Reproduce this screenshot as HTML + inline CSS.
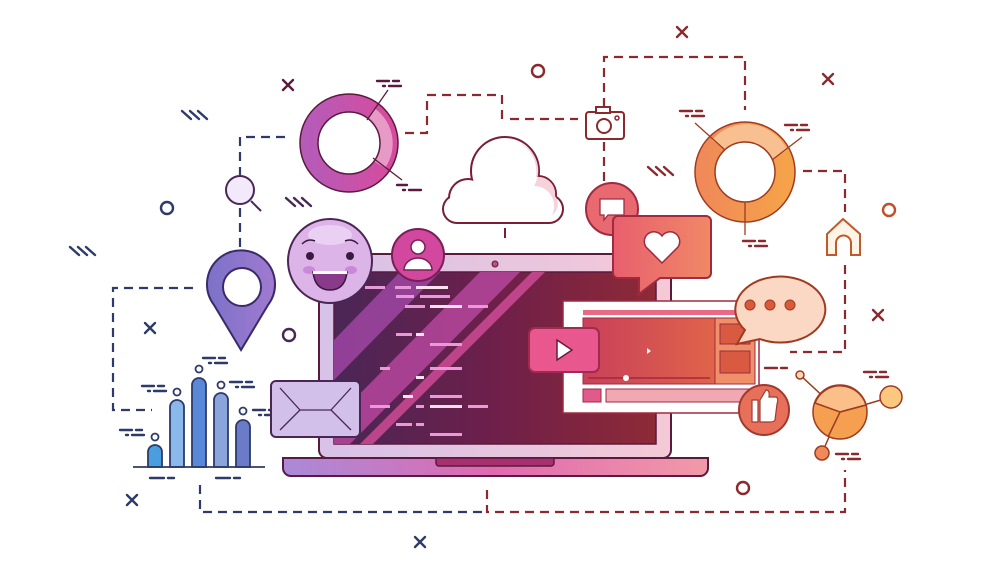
<!DOCTYPE html>
<html><head><meta charset="utf-8"><style>html,body{margin:0;padding:0;background:#fff}svg{display:block}</style></head>
<body>
<svg width="1000" height="568" viewBox="0 0 1000 568" xmlns="http://www.w3.org/2000/svg">
<defs>
<linearGradient id="scr" x1="0" y1="0" x2="1" y2="0"><stop offset="0" stop-color="#4a2656"/><stop offset="0.5" stop-color="#6e1f4a"/><stop offset="1" stop-color="#8e2a36"/></linearGradient>
<linearGradient id="lid" x1="0" y1="0" x2="1" y2="0"><stop offset="0" stop-color="#d7c2e8"/><stop offset="1" stop-color="#f5c9d6"/></linearGradient>
<linearGradient id="base" x1="0" y1="0" x2="1" y2="0"><stop offset="0" stop-color="#a98ad8"/><stop offset="0.5" stop-color="#e06ab0"/><stop offset="1" stop-color="#f19aa8"/></linearGradient>
<linearGradient id="pd" x1="0" y1="0" x2="1" y2="0"><stop offset="0" stop-color="#b65bb8"/><stop offset="1" stop-color="#d54c9e"/></linearGradient>
<linearGradient id="od" x1="0" y1="0" x2="1" y2="0"><stop offset="0" stop-color="#f08a58"/><stop offset="1" stop-color="#f5a24a"/></linearGradient>
<linearGradient id="vid" x1="0" y1="0" x2="1" y2="0"><stop offset="0" stop-color="#c8405a"/><stop offset="1" stop-color="#e0644a"/></linearGradient>
<linearGradient id="heart" x1="0" y1="0" x2="1" y2="0"><stop offset="0" stop-color="#e85f6e"/><stop offset="1" stop-color="#f08866"/></linearGradient>
<linearGradient id="pin" x1="0" y1="0" x2="1" y2="0"><stop offset="0" stop-color="#7b72c8"/><stop offset="1" stop-color="#a07ad0"/></linearGradient>
</defs>

<g fill="none" stroke="#2e3a6a" stroke-width="2.2" stroke-dasharray="9 6">
<path d="M285 137 H240 V175"/>
<path d="M240 208 V248"/>
<path d="M193 288 H113 V410 H152"/>
<path d="M200 485 V512 H487"/>
</g>
<g fill="none" stroke="#8a2a2e" stroke-width="2.2" stroke-dasharray="9 6">
<path d="M405 133 H427 V95 H502 V120"/>
<path d="M510 119 H578"/>
<path d="M604 107 V57 H745 V110"/>
<path d="M604 142 V185"/>
<path d="M803 171 H845 V212"/>
<path d="M845 265 V352 H790"/>
<path d="M487 490 V512 H845 V470"/>
</g>

<g stroke-width="2.4" fill="none" stroke-linecap="round">
<g stroke="#5a1a40"><path d="M283 80 l10 10 M293 80 l-10 10"/></g>
<g stroke="#2e3a6a"><path d="M145 323 l10 10 M155 323 l-10 10"/><path d="M127 495 l10 10 M137 495 l-10 10"/><path d="M415 537 l10 10 M425 537 l-10 10"/></g>
<g stroke="#8a2a2e"><path d="M677 27 l10 10 M687 27 l-10 10"/><path d="M823 74 l10 10 M833 74 l-10 10"/><path d="M873 310 l10 10 M883 310 l-10 10"/></g>
<circle cx="538" cy="71" r="6" stroke="#8a2a2e"/>
<circle cx="167" cy="208" r="6" stroke="#2e3a6a"/>
<circle cx="289" cy="335" r="6" stroke="#4a2656"/>
<circle cx="889" cy="210" r="6" stroke="#c0502a"/>
<circle cx="743" cy="488" r="6" stroke="#8a2a2e"/>
<g stroke="#2e3a6a"><path d="M182 111 l9 8 M190 111 l9 8 M198 111 l9 8"/><path d="M70 247 l9 8 M78 247 l9 8 M86 247 l9 8"/></g>
<g stroke="#4a2656"><path d="M286 198 l9 8 M294 198 l9 8 M302 198 l9 8"/></g>
<g stroke="#8a2a2e"><path d="M648 167 l9 8 M656 167 l9 8 M664 167 l9 8"/></g>
</g>
<g stroke-width="2.4" stroke-linecap="round">
<g stroke="#5a1a40"><path d="M377 81 h12 M393 81 h6 M383 86 h2 M389 86 h12"/><path d="M397 185 h10 M403 190 h2 M409 190 h12"/></g>
<g stroke="#8a2a2e"><path d="M680 111 h12 M696 111 h6 M686 116 h2 M692 116 h12"/><path d="M785 125 h12 M801 125 h6 M791 130 h2 M797 130 h12"/><path d="M743 241 h12 M759 241 h6 M749 246 h2 M755 246 h12"/><path d="M765 368 h12 M781 368 h6"/><path d="M864 372 h12 M880 372 h6 M870 377 h2 M876 377 h12"/><path d="M836 454 h12 M852 454 h6 M842 459 h2 M848 459 h12"/></g>
<g stroke="#2e3a6a"><path d="M142 386 h12 M158 386 h6 M148 391 h2 M154 391 h12"/><path d="M120 430 h12 M136 430 h6 M126 435 h2 M132 435 h12"/><path d="M203 358 h12 M219 358 h6 M209 363 h2 M215 363 h12"/><path d="M230 382 h12 M246 382 h6 M236 387 h2 M242 387 h12"/><path d="M253 410 h12 M269 410 h6 M259 415 h2 M265 415 h12"/><path d="M150 478 h14 M168 478 h6 M216 478 h14 M234 478 h6"/></g>
</g>

<!-- pink donut -->
<circle cx="349" cy="143" r="40" fill="none" stroke="url(#pd)" stroke-width="18"/>
<path d="M374.5 108.3 A43 43 0 0 1 385 168 L372 160 A28 28 0 0 0 365 122 Z" fill="#e89ac6"/>
<circle cx="349" cy="143" r="49" fill="none" stroke="#5a1a40" stroke-width="1.5"/>
<circle cx="349" cy="143" r="31" fill="#fff" stroke="#5a1a40" stroke-width="1.5"/>
<path d="M367 120 L388 90 M373 158 L402 180" stroke="#5a1a40" stroke-width="1.3"/>

<!-- orange donut -->
<circle cx="745" cy="172" r="40" fill="none" stroke="url(#od)" stroke-width="19"/>
<path d="M712 140 A45 45 0 0 1 787 150 L772 160 A28 28 0 0 0 725 150 Z" fill="#f8c090"/>
<circle cx="745" cy="172" r="50" fill="none" stroke="#a03a20" stroke-width="1.5"/>
<circle cx="745" cy="172" r="30" fill="#fff" stroke="#a03a20" stroke-width="1.5"/>
<path d="M725 150 L695 123 M772 160 L802 137 M745 202 V235" stroke="#a03a20" stroke-width="1.3"/>

<!-- cloud -->
<g stroke="#7a1e38" stroke-width="4" fill="#fff">
<rect x="444" y="196" width="118" height="26" rx="13"/>
<circle cx="505" cy="171" r="33"/>
<circle cx="468" cy="198" r="18"/>
<circle cx="538" cy="194" r="17"/>
</g>
<g fill="#fff">
<rect x="444" y="196" width="118" height="26" rx="13"/>
<circle cx="505" cy="171" r="33"/>
<circle cx="468" cy="198" r="18"/>
<circle cx="538" cy="194" r="17"/>
</g>
<path d="M520 143 A33 33 0 0 1 536 177 A17 17 0 0 1 555 196 A13 13 0 0 1 552 215 A20 20 0 0 0 534 186 A30 30 0 0 0 520 143Z" fill="#f6d2dc"/>
<path d="M505 228 V238" stroke="#7a1e38" stroke-width="2"/>

<!-- camera -->
<rect x="586" y="112" width="38" height="27" rx="3" fill="#fff" stroke="#8a2a2e" stroke-width="2"/>
<rect x="596" y="107" width="14" height="6" fill="#fff" stroke="#8a2a2e" stroke-width="2"/>
<circle cx="604" cy="126" r="7" fill="none" stroke="#8a2a2e" stroke-width="2"/>
<circle cx="617" cy="118" r="2" fill="none" stroke="#8a2a2e" stroke-width="1.5"/>

<!-- house -->
<path d="M827 255 V234 L843 219 L860 234 V255 H851 V243 A7 7 0 0 0 836 243 V255 Z" fill="#fff4e6" stroke="#c05a2a" stroke-width="2"/>

<!-- magnifier -->
<circle cx="240" cy="190" r="14" fill="#f2eafa" stroke="#4a2656" stroke-width="2"/>
<path d="M251 201 L261 211" stroke="#4a2656" stroke-width="2"/>

<!-- location pin -->
<path d="M241 350 L214 305 A34 34 0 1 1 268 305 Z" fill="url(#pin)" stroke="#3a2a6a" stroke-width="2"/>
<circle cx="242" cy="287" r="19" fill="#fff" stroke="#3a2a6a" stroke-width="2"/>

<!-- bar chart -->
<g stroke="#2e3a6a" stroke-width="1.8">
<path d="M148 467 V452 A7 7 0 0 1 162 452 V467Z" fill="#4a9ee0"/>
<path d="M170 467 V407 A7 7 0 0 1 184 407 V467Z" fill="#8ab8ea"/>
<path d="M192 467 V385 A7 7 0 0 1 206 385 V467Z" fill="#5a88d8"/>
<path d="M214 467 V400 A7 7 0 0 1 228 400 V467Z" fill="#8aa4dc"/>
<path d="M236 467 V427 A7 7 0 0 1 250 427 V467Z" fill="#6a7cc8"/>
<path d="M133 467 H265" fill="none"/>
<g fill="#fff"><circle cx="155" cy="437" r="3.5"/><circle cx="177" cy="392" r="3.5"/><circle cx="199" cy="369" r="3.5"/><circle cx="221" cy="385" r="3.5"/><circle cx="243" cy="411" r="3.5"/></g>
</g>

<!-- laptop lid -->
<rect x="319" y="254" width="352" height="204" rx="8" fill="url(#lid)" stroke="#5a1a40" stroke-width="2"/>
<rect x="334" y="272" width="322" height="172" fill="url(#scr)" stroke="#5a1a40" stroke-width="1.5"/>
<circle cx="495" cy="264" r="3" fill="#c0507a" stroke="#5a1a40"/>
<clipPath id="sc"><rect x="334" y="272" width="322" height="172"/></clipPath>
<g clip-path="url(#sc)">
<path d="M334 340 L400 272 L440 272 L334 380Z" fill="#9a449e" opacity="0.9"/>
<path d="M334 420 L480 272 L520 272 L350 444 L334 444Z" fill="#b04498" opacity="0.9"/>
<path d="M360 444 L532 272 L545 272 L373 444Z" fill="#c84890" opacity="0.9"/>
<g fill="#e89ad8"><rect x="365" y="286" width="20" height="3"/><rect x="395" y="286" width="16" height="3"/><rect x="396" y="295" width="18" height="3"/><rect x="420" y="295" width="30" height="3"/><rect x="405" y="305" width="20" height="3"/><rect x="468" y="305" width="20" height="3"/><rect x="396" y="333" width="16" height="3"/><rect x="430" y="343" width="32" height="3"/><rect x="380" y="367" width="10" height="3"/><rect x="430" y="367" width="32" height="3"/><rect x="430" y="395" width="32" height="3"/><rect x="370" y="405" width="20" height="3"/><rect x="416" y="405" width="8" height="3"/><rect x="468" y="405" width="20" height="3"/><rect x="396" y="423" width="16" height="3"/><rect x="416" y="423" width="8" height="3"/><rect x="430" y="433" width="32" height="3"/></g>
<g fill="#fbe0f0"><rect x="416" y="286" width="32" height="3"/><rect x="430" y="305" width="32" height="3"/><rect x="416" y="333" width="8" height="3"/><rect x="416" y="376" width="8" height="3"/><rect x="403" y="395" width="10" height="3"/><rect x="430" y="405" width="32" height="3"/></g>
</g>
<path d="M283 458 H708 V468 A8 8 0 0 1 700 476 H291 A8 8 0 0 1 283 468 Z" fill="url(#base)" stroke="#5a1a40" stroke-width="2"/>
<path d="M436 458 H554 V463 A3 3 0 0 1 551 466 H439 A3 3 0 0 1 436 463Z" fill="#a8306e" stroke="#5a1a40" stroke-width="1.5"/>

<!-- emoji -->
<circle cx="330" cy="261" r="42" fill="#dcb4e8" stroke="#4a2656" stroke-width="2"/>
<ellipse cx="330" cy="235" rx="22" ry="10" fill="#ead0f2"/>
<ellipse cx="309" cy="270" rx="6" ry="4" fill="#c88ad8"/><ellipse cx="351" cy="270" rx="6" ry="4" fill="#c88ad8"/>
<circle cx="310" cy="256" r="4" fill="#3a1a40"/><circle cx="350" cy="256" r="4" fill="#3a1a40"/>
<path d="M302 244 Q308 238 315 241 M345 241 Q352 238 358 244" stroke="#3a1a40" stroke-width="1.5" fill="none"/>
<path d="M313 272 H347 Q345 290 330 290 Q315 290 313 272Z" fill="#8a3a8a" stroke="#3a1a40" stroke-width="1.5"/>
<rect x="313" y="271" width="34" height="3" fill="#fff"/>

<!-- user avatar -->
<circle cx="418" cy="255" r="26" fill="#d2489e" stroke="#7a1e58" stroke-width="2"/>
<circle cx="418" cy="247" r="7" fill="#fff" stroke="#7a1e58" stroke-width="1.5"/>
<path d="M404 270 A14 12 0 0 1 432 270 Z" fill="#fff" stroke="#7a1e58" stroke-width="1.5"/>

<!-- envelope -->
<rect x="271" y="381" width="89" height="56" rx="5" fill="#d2c0ea" stroke="#4a2656" stroke-width="2"/>
<path d="M280 388 L300 410 H331 L351 388 M280 430 L300 410 M331 410 L351 430" stroke="#4a2656" stroke-width="1.3" fill="none"/>

<!-- chat circle -->
<circle cx="612" cy="209" r="26" fill="#e86a70" stroke="#a02a40" stroke-width="2"/>
<path d="M600 199 H624 V215 H608 L604 220 V215 H600Z" fill="#fff" stroke="#a02a40" stroke-width="1.3"/>

<!-- heart bubble -->
<path d="M618 216 H706 A5 5 0 0 1 711 221 V273 A5 5 0 0 1 706 278 H660 L639 294 V278 H618 A5 5 0 0 1 613 273 V221 A5 5 0 0 1 618 216Z" fill="url(#heart)" stroke="#a02a40" stroke-width="2"/>
<path d="M662 263 L646 247 A9 9 0 0 1 662 236 A9 9 0 0 1 678 247 Z" fill="#fff" stroke="#a02a40" stroke-width="1.5"/>

<!-- video panel -->
<rect x="563" y="301" width="196" height="112" fill="#fff" stroke="#a02a40" stroke-width="1.5"/>
<rect x="583" y="310" width="170" height="5" fill="#e86a84"/>
<rect x="583" y="318" width="132" height="66" fill="url(#vid)" stroke="#a02a40" stroke-width="1"/>
<rect x="715" y="318" width="40" height="66" fill="#f0906a" stroke="#a02a40" stroke-width="1"/>
<rect x="720" y="324" width="30" height="20" fill="#d85a40" stroke="#a02a40" stroke-width="1"/>
<rect x="720" y="351" width="30" height="22" fill="#d85a40" stroke="#a02a40" stroke-width="1"/>
<path d="M647 348 l4 3 l-4 3Z" fill="#fff"/>
<path d="M588 378 H710" stroke="#a02a40" stroke-width="1.5"/>
<circle cx="626" cy="378" r="3" fill="#fff"/>
<rect x="583" y="389" width="18" height="13" fill="#e05a8a" stroke="#a02a40"/>
<rect x="606" y="389" width="150" height="13" fill="#f2a8b2" stroke="#a02a40"/>

<!-- play button -->
<rect x="529" y="328" width="70" height="44" rx="6" fill="#e8588e" stroke="#a02a50" stroke-width="2"/>
<path d="M557 340 L572 350 L557 360Z" fill="#fff" stroke="#6a1a3a" stroke-width="1.5"/>

<!-- speech bubble -->
<path d="M745 330 A45 33 0 1 1 760 339 L737 344 Z" fill="#fad8c4" stroke="#a03a20" stroke-width="2"/>
<g fill="#d85a3a" stroke="#a03a20"><circle cx="750" cy="305" r="5"/><circle cx="770" cy="305" r="5"/><circle cx="790" cy="305" r="5"/></g>

<!-- thumbs -->
<circle cx="764" cy="410" r="25" fill="#e8705a" stroke="#a03a30" stroke-width="2"/>
<path d="M752 400 H758 V422 H752Z M760 400 L766 390 Q770 390 769 397 H776 Q779 398 777 404 L775 420 Q774 422 770 422 H760Z" fill="#fff" stroke="#a03a30" stroke-width="1.2"/>

<!-- network -->
<g stroke="#a03a20" stroke-width="1.5">
<path d="M800 375 L840 412 L891 397 M840 412 L822 453" fill="none"/>
<circle cx="840" cy="412" r="27" fill="#f5a050"/>
<path d="M815 403 A27 27 0 0 1 866 405 L840 412Z" fill="#fbc08a"/>
<path d="M828 437 L840 412 L866 405" fill="none"/>
<circle cx="891" cy="397" r="11" fill="#fcc880"/>
<circle cx="822" cy="453" r="7" fill="#f08a58"/>
<circle cx="800" cy="375" r="4" fill="#fcd8b8"/>
</g>
</svg>
</body></html>
